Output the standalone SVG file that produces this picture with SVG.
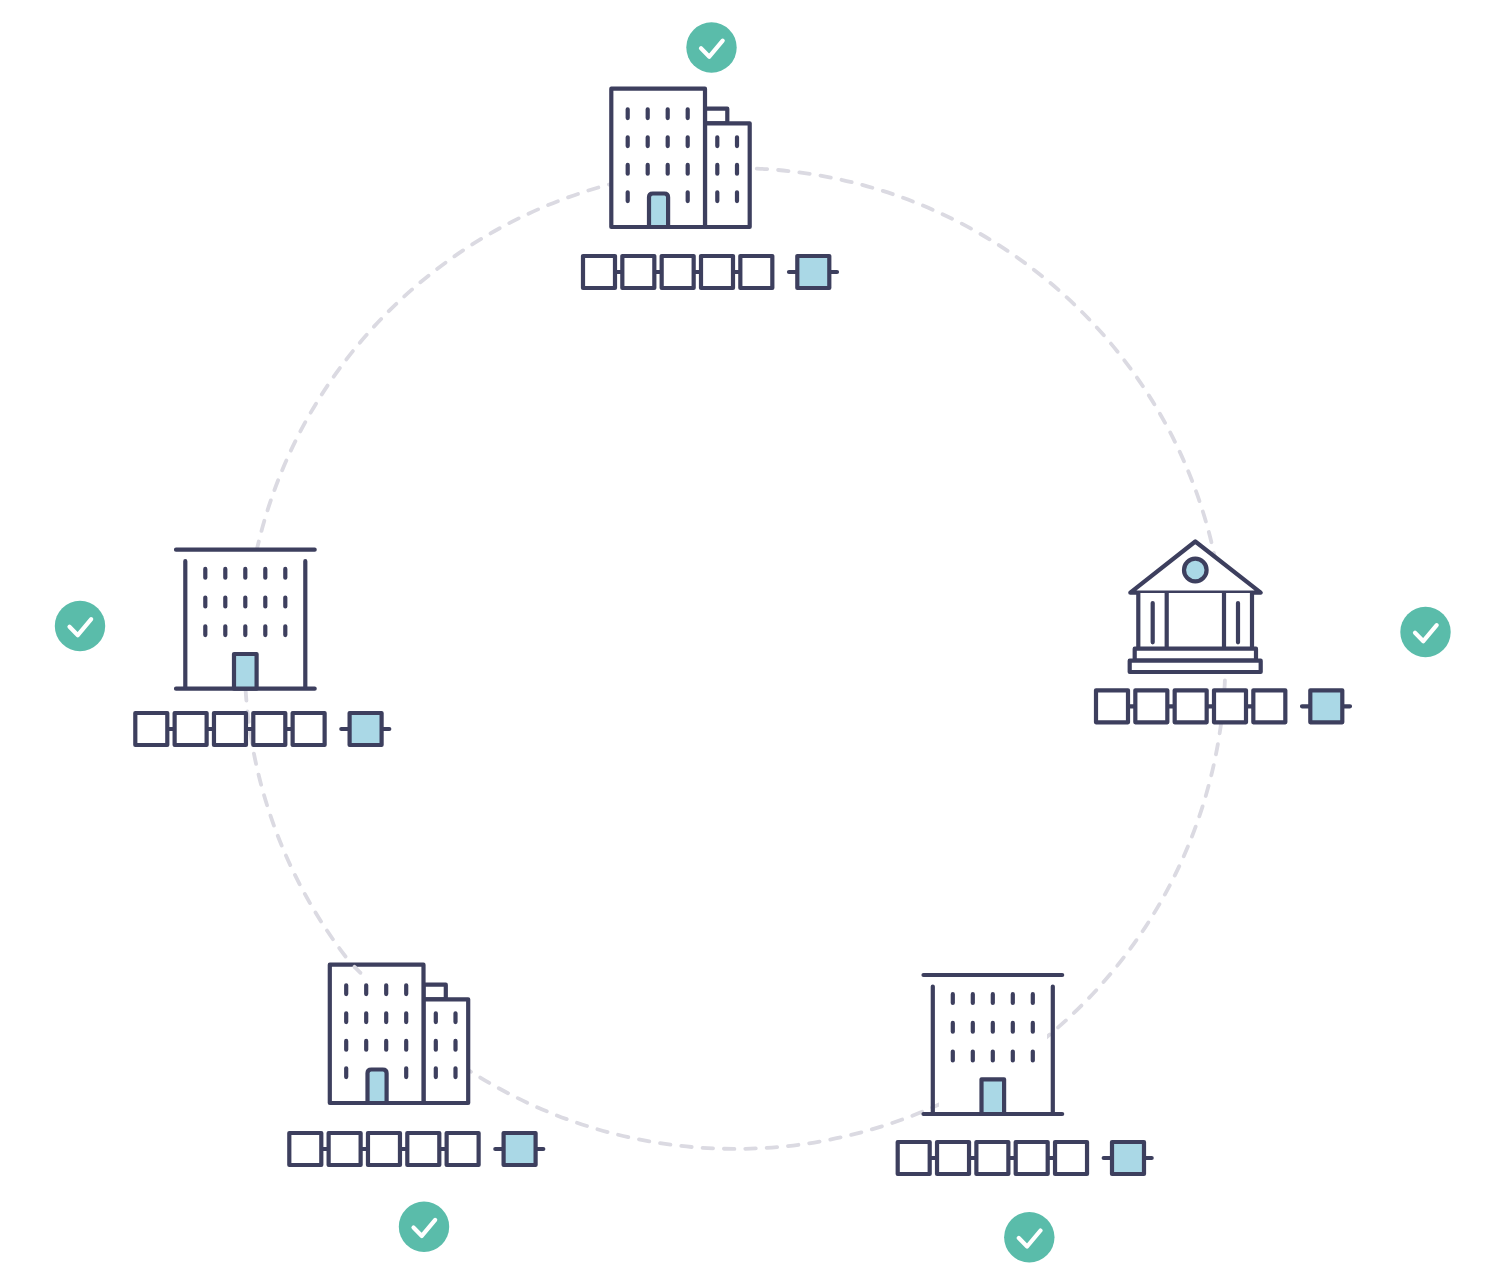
<svg xmlns="http://www.w3.org/2000/svg" xmlns:xlink="http://www.w3.org/1999/xlink" width="1486" height="1284" viewBox="0 0 1486 1284">
<style>
.s{fill:none;stroke:#3d3f5e;stroke-width:4.200;stroke-linecap:round;stroke-linejoin:round}
.w{fill:#fff;stroke:#3d3f5e;stroke-width:4.200;stroke-linecap:round;stroke-linejoin:round}
.b{fill:#aad8e6;stroke:#3d3f5e;stroke-width:4.200;stroke-linecap:round;stroke-linejoin:round}
.r{fill:#fff;stroke:none}
.c{fill:#5abcaa}
.k{fill:none;stroke:#fff;stroke-width:4.200;stroke-linecap:round;stroke-linejoin:round}
.d{fill:none;stroke:#dbdae2;stroke-width:3.800;stroke-linecap:round}
</style>
<defs>
<g id="chain">
<path class="s" d="M35 18h5M74 18h5M113.500 18h5M153 18h5"/>
<rect class="w" x="2" y="2" width="32" height="32"/>
<rect class="w" x="41.330" y="2" width="32" height="32"/>
<rect class="w" x="80.670" y="2" width="32" height="32"/>
<rect class="w" x="120" y="2" width="32" height="32"/>
<rect class="w" x="159.330" y="2" width="32" height="32"/>
<path class="s" d="M208 18h8M249 18h7"/>
<rect class="b" x="216.300" y="2" width="32" height="32"/>
</g>
<g id="check">
<circle class="c" r="25.200"/>
<path class="k" d="M-10.500 0.800L-2.200 9.200L11.200-6.800"/>
</g>
<g id="office">
<path class="w" d="M95.700 22H118V36.600H95.700Z"/>
<rect class="w" x="95.700" y="36.600" width="44.700" height="103.700"/>
<rect class="w" x="2" y="2" width="93.700" height="138.300"/>
<path class="s" d="M18.400 22.600v8.800M38.400 22.600v8.800M58.400 22.600v8.800M78.400 22.600v8.800M18.400 50.600v8.800M38.400 50.600v8.800M58.400 50.600v8.800M78.400 50.600v8.800M18.400 78.200v8.800M38.400 78.200v8.800M58.400 78.200v8.800M78.400 78.200v8.800M18.400 105.600v8.800M78.400 105.600v8.800M108 50.600v8.800M127.700 50.600v8.800M108 78.200v8.800M127.700 78.200v8.800M108 105.600v8.800M127.700 105.600v8.800"/>
<path class="b" d="M39.700 140.300V110.600Q39.700 106.800 43.500 106.800H55Q58.800 106.800 58.800 110.600V140.300Z"/>
</g>
<g id="gov">
<rect class="r" x="17.500" y="0" width="108" height="139"/>
<path class="s" d="M2 1.500H140.700M2 140.500H140.700M11.300 13V140.500M131.300 13V140.500"/>
<path class="s" d="M31.300 20.700v8.800M51.300 20.700v8.800M71.300 20.700v8.800M91.300 20.700v8.800M111.300 20.700v8.800M31.300 49.400v8.800M51.300 49.400v8.800M71.300 49.400v8.800M91.300 49.400v8.800M111.300 49.400v8.800M31.300 78.100v8.800M51.300 78.100v8.800M71.300 78.100v8.800M91.300 78.100v8.800M111.300 78.100v8.800"/>
<rect class="b" x="60" y="105.800" width="22.600" height="34.700"/>
</g>
</defs>
<g id="connectors">
<circle class="d" cx="735" cy="658.500" r="490.400" stroke-dasharray="10.500 10.898" transform="rotate(-87.460 735 658.500)"/>
</g>
<g id="node-top">
<use xlink:href="#office" href="#office" x="609.300" y="86.700"/>
<use xlink:href="#chain" href="#chain" x="581" y="254"/>
<use xlink:href="#check" href="#check" x="711.500" y="47.500"/>
</g>
<g id="node-bank">
<path class="w" d="M1195.300 541.500L1260.700 592.700H1130.300Z"/>
<rect class="r" x="1138" y="593" width="114" height="56"/>
<path class="s" d="M1138.300 593V648.500M1166.700 593V648.500M1224 593V648.500M1252 593V648.500"/>
<path class="s" d="M1152.700 603V642.300M1238 603V642.300"/>
<circle class="b" cx="1195.300" cy="570" r="11.300"/>
<rect class="w" x="1134.700" y="648.700" width="121.300" height="12"/>
<rect class="w" x="1129.700" y="660.700" width="131" height="11.300"/>
<use xlink:href="#chain" href="#chain" x="1094" y="688.300"/>
<use xlink:href="#check" href="#check" x="1425.500" y="632"/>
</g>
<g id="node-left">
<use xlink:href="#gov" href="#gov" x="174" y="548.200"/>
<use xlink:href="#chain" href="#chain" x="133.300" y="711"/>
<use xlink:href="#check" href="#check" x="80" y="626"/>
</g>
<g id="node-bottom-left">
<use xlink:href="#office" href="#office" x="327.800" y="962.700"/>
<path class="d" d="M354.500 966.800L360.500 972.800"/>
<use xlink:href="#chain" href="#chain" x="287.300" y="1131"/>
<use xlink:href="#check" href="#check" x="424" y="1226.700"/>
</g>
<g id="node-bottom-right">
<use xlink:href="#gov" href="#gov" x="921.500" y="973.500"/>
<use xlink:href="#chain" href="#chain" x="895.700" y="1140"/>
<use xlink:href="#check" href="#check" x="1029.300" y="1237.300"/>
</g>
</svg>
